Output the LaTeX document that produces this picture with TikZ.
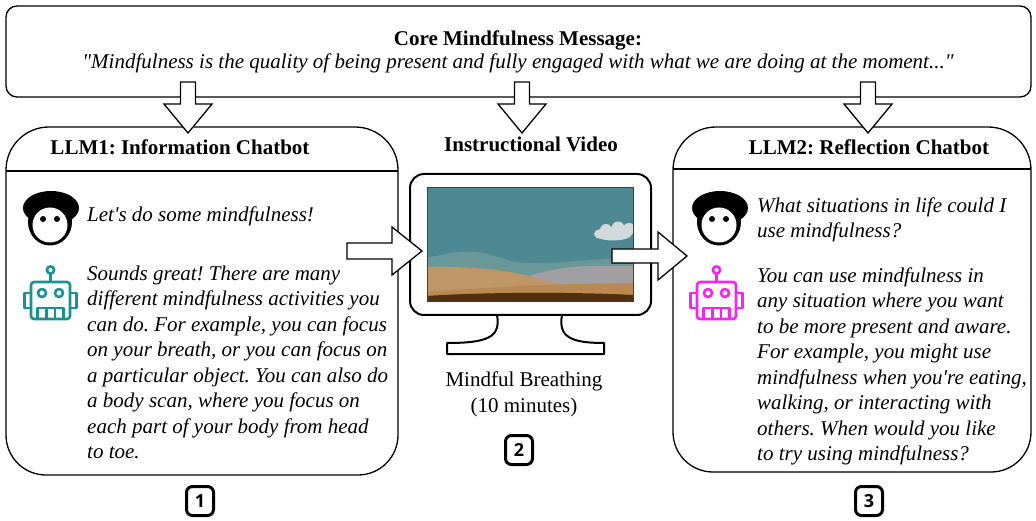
\documentclass[tikz,border=0pt]{standalone}
\usepackage{fontspec}
\setmainfont{Liberation Serif}[Ligatures=TeXOff]
\newfontfamily\badgefont{Open Sans}
\definecolor{sky}{RGB}{78,136,146}
\definecolor{farhill}{RGB}{106,151,152}
\definecolor{grayhill}{RGB}{161,159,161}
\definecolor{tanhill}{RGB}{192,149,103}
\definecolor{sandband}{RGB}{186,137,82}
\definecolor{darkbrown}{RGB}{82,47,15}
\definecolor{cloudgray}{RGB}{208,217,220}
\definecolor{robotteal}{RGB}{24,146,146}
\definecolor{robotpink}{RGB}{244,36,244}
\tikzset{
  boxline/.style={draw=black, line width=1.3pt},
  blockarr/.style={draw=black, fill=white, line width=1.3pt, line join=miter},
  hdr/.style={font=\fontsize{21}{25.5}\selectfont\bfseries, anchor=base, inner sep=0},
  plaintext/.style={font=\fontsize{21}{25.5}\selectfont, anchor=base, inner sep=0},
  quotetext/.style={font=\fontsize{21}{25.5}\selectfont\itshape, anchor=base, inner sep=0},
  body/.style={font=\fontsize{21}{25.5}\selectfont\itshape, align=left, inner sep=0, anchor=north west},
  badge/.style={draw=black, line width=3pt, rounded corners=6pt, minimum width=27pt, minimum height=29pt, inner sep=0, font=\badgefont\bfseries\fontsize{18}{18}\selectfont},
  person/.pic={
    \fill[black] (1,-10) ellipse [x radius=28, y radius=17];
    \fill[black] (0,4) ellipse [x radius=22, y radius=23.5];
    \fill[white] (0,7) ellipse [x radius=17.5, y radius=17.5];
    \fill[black] (-7,1) circle [radius=3] (7,1) circle [radius=3];
  },
  robot/.pic={
    \begin{scope}[line width=2.6pt, line join=round]
      \draw (0,-23) circle [radius=3.6];
      \draw (0,-19.4) -- (0,-11);
      \draw[rounded corners=3pt] (-19.5,-11) rectangle (19.5,26);
      \draw (-19.5,0) -- (-26,0) -- (-26,15) -- (-19.5,15);
      \draw (19.5,0) -- (26,0) -- (26,15) -- (19.5,15);
      \draw (-8.5,0) circle [radius=4];
      \draw (8.5,0) circle [radius=4];
      \draw (-13,26) -- (-13,15) -- (13,15) -- (13,26);
      \draw (-4.3,15) -- (-4.3,26) (4.3,15) -- (4.3,26);
    \end{scope}
  }
}
\begin{document}
\frenchspacing
\begin{tikzpicture}[x=1pt,y=-1pt]
\useasboundingbox (0,0) rectangle (1036,521);
\fill[white] (0,0) rectangle (1036,521);

% top box
\draw[boxline, rounded corners=11pt] (6,6) rectangle (1031,97);
\node[hdr] (coreh) at (518,46) {Core Mindfulness Message:};
\node[quotetext] (coreq) at (518,69) {"Mindfulness is the quality of being present and fully engaged with what we are doing at the moment..."};

% left panel
\draw[boxline, rounded corners=43pt] (6,300) |- (398,127) -- (398,300);
\draw[boxline, rounded corners=40pt] (6,300) |- (398,475) -- (398,300);
\draw[boxline] (6,171) -- (398,171);
\node[hdr] (h1) at (180,155) {LLM1: Information Chatbot};
\pic at (50,218) {person};
\node[quotetext, anchor=base west] (u1) at (87,222) {Let's do some mindfulness!};
\pic[color=robotteal] at (50.5,293) {robot};
\node[body] (r1) at (87,264) {\rule{0pt}{16pt}Sounds great! There are many\\
different mindfulness activities you\\
can do. For example, you can focus\\
on your breath, or you can focus on\\
a particular object. You can also do\\
a body scan, where you focus on\\
each part of your body from head\\
to toe.};

% right panel
\draw[boxline, rounded corners=43pt] (673,300) |- (1031,127) -- (1031,300);
\draw[boxline, rounded corners=40pt] (673,300) |- (1031,472) -- (1031,300);
\draw[boxline] (673,169) -- (1031,169);
\node[hdr] (h3) at (869,155) {LLM2: Reflection Chatbot};
\pic at (719,218) {person};
\node[body] (u3) at (757,196) {\rule{0pt}{16pt}What situations in life could I\\
use mindfulness?};
\pic[color=robotpink] at (716.5,293) {robot};
\node[body] (r3) at (757,266) {\rule{0pt}{16pt}You can use mindfulness in\\
any situation where you want\\
to be more present and aware.\\
For example, you might use\\
mindfulness when you're eating,\\
walking, or interacting with\\
others. When would you like\\
to try using mindfulness?};

% middle: video
\node[hdr] (h2) at (531,152) {Instructional Video};
\draw[line width=2pt, rounded corners=14pt] (410,174) rectangle (651,315);
\draw[line width=2pt, line join=round] (497,315) .. controls (501,337) and (488,343) .. (447,343) -- (447,354) -- (604,354) -- (604,343) .. controls (571,343) and (558,337) .. (562,315);
\begin{scope}
  \clip (427,188) rectangle (633,302);
  \fill[sky] (427,188) rectangle (633,302);
  \fill[cloudgray] (613,234) ellipse [x radius=19, y radius=6.5];
  \fill[cloudgray] (606,230) circle [radius=6] (618,228) circle [radius=6.5] (629,229) circle [radius=6] (599,234) circle [radius=4.5];
  \fill[farhill] (427,258) .. controls (445,254) and (455,251) .. (475,252) .. controls (495,253) and (505,262) .. (525,263) .. controls (560,264) and (600,258) .. (633,258) -- (633,302) -- (427,302) -- cycle;
  \fill[grayhill] (505,302) -- (505,284) .. controls (530,275) and (560,266) .. (590,266) -- (633,266) -- (633,302) -- cycle;
  \fill[tanhill] (427,267) .. controls (460,266) and (500,269) .. (525,275) .. controls (540,279) and (550,283) .. (565,285) -- (565,302) -- (427,302) -- cycle;
  \fill[sandband] (427,292) .. controls (480,288) and (540,284) .. (633,283) -- (633,302) -- (427,302) -- cycle;
  \fill[darkbrown] (427,302) -- (427,296) .. controls (480,292) and (580,292) .. (633,295) -- (633,302) -- cycle;
\end{scope}
\draw[line width=1pt, black!75] (427,188) rectangle (633,302);
\node[plaintext] (t2a) at (524,386) {Mindful Breathing};
\node[plaintext] (t2b) at (524,412) {(10 minutes)};

% block arrows
\draw[blockarr] (180.5,82) -- (180.5,104) -- (164,104) -- (188,133) -- (212,104) -- (195.5,104) -- (195.5,82) -- cycle;
\draw[blockarr] (514.5,82) -- (514.5,104) -- (498,104) -- (522,133) -- (546,104) -- (529.5,104) -- (529.5,82) -- cycle;
\draw[blockarr] (860.5,82) -- (860.5,104) -- (844,104) -- (868,133) -- (892,104) -- (875.5,104) -- (875.5,82) -- cycle;
\draw[blockarr] (347,243) -- (392,243) -- (392,227) -- (422,251) -- (392,275) -- (392,259) -- (347,259) -- cycle;
\draw[blockarr] (612,249) -- (658,249) -- (658,232) -- (687,256) -- (658,280) -- (658,263) -- (612,263) -- cycle;

% badges
\node[badge] (b1) at (200,501) {1};
\node[badge] (b2) at (519,450) {2};
\node[badge] (b3) at (869,501) {3};
\end{tikzpicture}
\end{document}
